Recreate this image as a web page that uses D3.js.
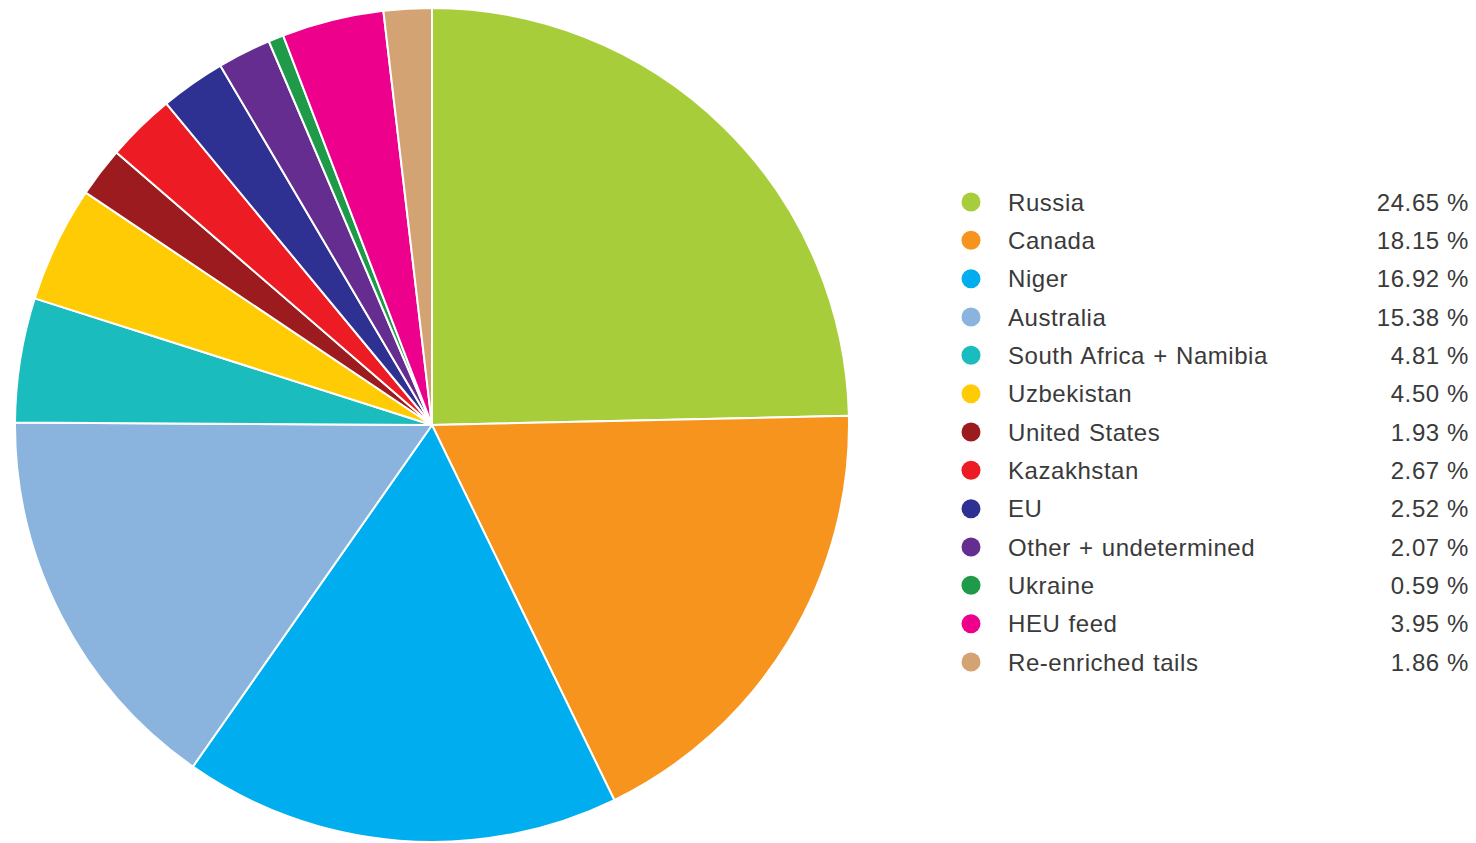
<!DOCTYPE html>
<html><head><meta charset="utf-8">
<script src="https://cdn.jsdelivr.net/npm/d3@7"></script>
<style>body{margin:0;background:#fff;}svg{display:block;}</style>
</head><body>
<svg id="chart" width="1476" height="843"></svg>
<script>
const categories = ["Russia","Canada","Niger","Australia","South Africa + Namibia","Uzbekistan","United States","Kazakhstan","EU","Other + undetermined","Ukraine","HEU feed","Re-enriched tails"];
const values = [24.65,18.15,16.92,15.38,4.81,4.50,1.93,2.67,2.52,2.07,0.59,3.95,1.86];
const valueLabels = ["24.65","18.15","16.92","15.38","4.81","4.50","1.93","2.67","2.52","2.07","0.59","3.95","1.86"];
const colors = ["#a8cd3a","#f7941d","#00aeef","#8ab4de","#1bbcbd","#ffcb05","#9b1b1f","#ed1c24","#2e3192","#662d91","#1e9a48","#ec008c","#d4a373"];

const data = categories.map((c,i)=>({name:c,value:values[i],label:valueLabels[i],color:colors[i]}));
const svg = d3.select("#chart");
const cx = 432, cy = 425, r = 417;
const pie = d3.pie().value(d=>d.value).sort(null);
const arc = d3.arc().innerRadius(0).outerRadius(r);
svg.append("g").attr("transform",`translate(${cx},${cy})`)
  .selectAll("path").data(pie(data)).join("path")
  .attr("d",arc).attr("fill",d=>d.data.color)
  .attr("stroke","#fff").attr("stroke-width",2).attr("stroke-linejoin","round");

const y = d3.scalePoint().domain(categories).range([202,662]);
const lg = svg.append("g");
const rows = lg.selectAll("g").data(data).join("g").attr("transform",d=>`translate(0,${y(d.name)})`);
rows.append("circle").attr("cx",971).attr("cy",0).attr("r",9.5).attr("fill",d=>d.color);
rows.append("text").attr("x",1008).attr("y",0).attr("dy","0.36em")
  .attr("font-family","Liberation Sans, Arial, sans-serif").attr("font-size",24).attr("fill","#3a3a3a")
  .attr("letter-spacing","0.55px").attr("word-spacing","1px")
  .text(d=>d.name);
rows.append("text").attr("x",1469).attr("y",0).attr("dy","0.36em").attr("text-anchor","end")
  .attr("font-family","Liberation Sans, Arial, sans-serif").attr("font-size",24).attr("fill","#3a3a3a")
  .attr("letter-spacing","0.6px")
  .text(d=>d.label+" %");
</script>
</body></html>
